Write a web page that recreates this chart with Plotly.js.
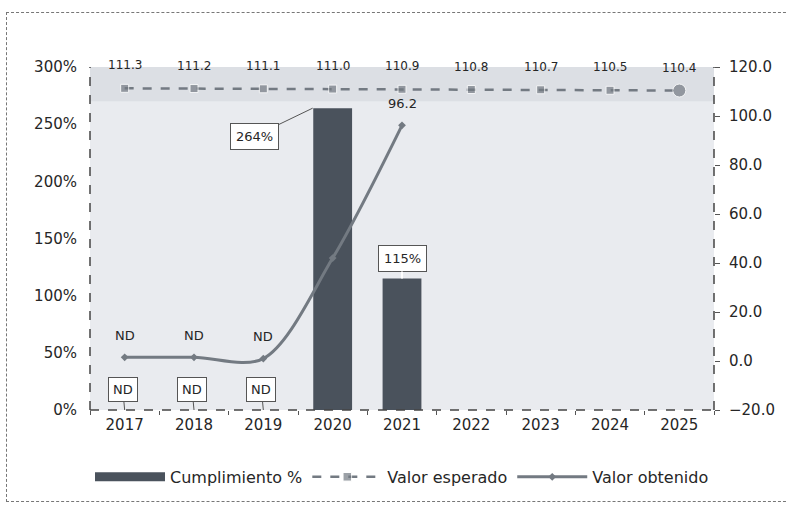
<!DOCTYPE html>
<html><head><meta charset="utf-8">
<script src="https://cdn.plot.ly/plotly-3.0.1.min.js"></script>
<style>
html,body{margin:0;padding:0;background:#fff;}
#wrap{position:relative;width:786px;height:508px;}
#chart{width:786px;height:508px;}
#frame{position:absolute;left:6px;top:12px;width:790px;height:490px;border:1px dashed #777;pointer-events:none;box-sizing:border-box;}
</style></head>
<body>
<div id="wrap"><div id="chart"></div><div id="frame"></div></div>
<script>
const years = ['2017','2018','2019','2020','2021','2022','2023','2024','2025'];
const cumplimiento = [null,null,null,264,115,null,null,null,null];
const cumplimientoLabels = ['ND','ND','ND','264%','115%','','','',''];
const esperado = [111.3,111.2,111.1,111.0,110.9,110.8,110.7,110.5,110.4];
const obtenido = [1.5,1.5,1.0,42,96.2];
const obtenidoLabels = ['ND','ND','ND','','96.2'];

const fontFam = '"DejaVu Sans", Verdana, sans-serif';
const txt = '#262626';
const barColor = '#4a525c';
const lineColor = '#737a82';

const traces = [
  {type:'bar', name:'Cumplimiento %', x:years, y:cumplimiento, yaxis:'y', showlegend:false,
   marker:{color:barColor}, width:0.56, hoverinfo:'skip'},
  // legend entry drawn as a wide bar swatch (no data points)
  {type:'scatter', mode:'lines', name:'Cumplimiento %', x:[null], y:[null], yaxis:'y',
   line:{color:barColor, width:9}, showlegend:true},
  {type:'scatter', mode:'lines+markers', name:'Valor esperado', x:years, y:esperado, yaxis:'y2',
   line:{color:lineColor, width:2.5, dash:'dash'},
   marker:{color:lineColor, symbol:esperado.map((v,i)=> i===esperado.length-1?'circle':'square'),
           size:esperado.map((v,i)=> i===esperado.length-1?13:8)}},
  {type:'scatter', mode:'lines+markers', name:'Valor obtenido', x:years.slice(0,obtenido.length), y:obtenido, yaxis:'y2',
   line:{color:lineColor, width:3, shape:'spline', smoothing:0.9},
   marker:{color:lineColor, symbol:'diamond', size:6}}
];

const annotations = [];
esperado.forEach((v,i)=>{
  annotations.push({x:i, y:v, xref:'x', yref:'y2', text:v.toFixed(1), showarrow:false,
    yshift:23, font:{family:fontFam, size:12, color:txt}});
});
obtenido.forEach((v,i)=>{
  if(!obtenidoLabels[i]) return;
  annotations.push({x:i, y:v, xref:'x', yref:'y2', text:obtenidoLabels[i], showarrow:false,
    yshift:22, font:{family:fontFam, size:13, color:txt}});
});
cumplimientoLabels.forEach((lab,i)=>{
  if(!lab) return;
  const v = cumplimiento[i];
  if(v===null){
    annotations.push({x:i, y:0, xref:'x', yref:'y', text:lab, showarrow:true, arrowhead:0,
      arrowcolor:'#555', arrowwidth:1, ax:-2, ay:-21, bgcolor:'#fff', bordercolor:'#555', borderwidth:1, borderpad:4,
      font:{family:fontFam, size:13, color:txt}});
  } else if(v>200){
    annotations.push({x:i, y:v, xref:'x', yref:'y', text:lab, showarrow:true, arrowhead:0, xshift:-20,
      arrowcolor:'#555', arrowwidth:1, ax:-58, ay:28, bgcolor:'#fff', bordercolor:'#555', borderwidth:1, borderpad:5,
      font:{family:fontFam, size:13, color:txt}});
  } else {
    annotations.push({x:i, y:v, xref:'x', yref:'y', text:lab, showarrow:true, arrowhead:0,
      arrowcolor:'#fff', arrowwidth:2, ax:0, ay:-20, bgcolor:'#fff', bordercolor:'#555', borderwidth:1, borderpad:5,
      font:{family:fontFam, size:13, color:txt}});
  }
});

const dashLine = {type:'line', line:{color:'#444', width:1.5, dash:'dash'}};
const layout = {
  width:786, height:508,
  margin:{l:90, r:72, t:67, b:98},
  paper_bgcolor:'#fff', plot_bgcolor:'#e9ebef',
  font:{family:fontFam, color:txt},
  showlegend:true,
  legend:{orientation:'h', x:0.5, xanchor:'center', y:-0.195, yanchor:'middle',
          font:{family:fontFam, size:16, color:txt}, itemwidth:70, traceorder:'normal'},
  bargap:0.44,
  xaxis:{type:'category', range:[-0.5, years.length-0.5], showgrid:false, zeroline:false, showline:false,
         ticks:'outside', tickson:'boundaries', ticklen:4, tickcolor:'#555', tickangle:0, ticklabelstandoff:4,
         tickfont:{family:fontFam, size:15, color:txt}},
  yaxis:{range:[0,300], dtick:50, ticksuffix:'%', showgrid:false, zeroline:false, showline:false,
         ticklabelstandoff:12, tickfont:{family:fontFam, size:15, color:txt}},
  yaxis2:{range:[-20,120], dtick:20, tickformat:'.1f', overlaying:'y', side:'right', showgrid:false,
          zeroline:false, showline:false, ticks:'outside', ticklen:5, tickcolor:'#555', ticklabelstandoff:6,
          tickfont:{family:fontFam, size:15, color:txt}},
  shapes:[
    {type:'rect', xref:'paper', yref:'paper', x0:0, x1:1, y0:0.9, y1:1, fillcolor:'#dcdfe4', line:{width:0}, layer:'below'},
    Object.assign({xref:'paper', yref:'paper', x0:0, x1:0, y0:0, y1:1}, dashLine),
    Object.assign({xref:'paper', yref:'paper', x0:1, x1:1, y0:0, y1:1}, dashLine),
    Object.assign({xref:'paper', yref:'paper', x0:0, x1:1, y0:0, y1:0}, dashLine)
  ],
  annotations:annotations
};
Plotly.newPlot('chart', traces, layout, {displayModeBar:false, staticPlot:true});
</script>
</body></html>
